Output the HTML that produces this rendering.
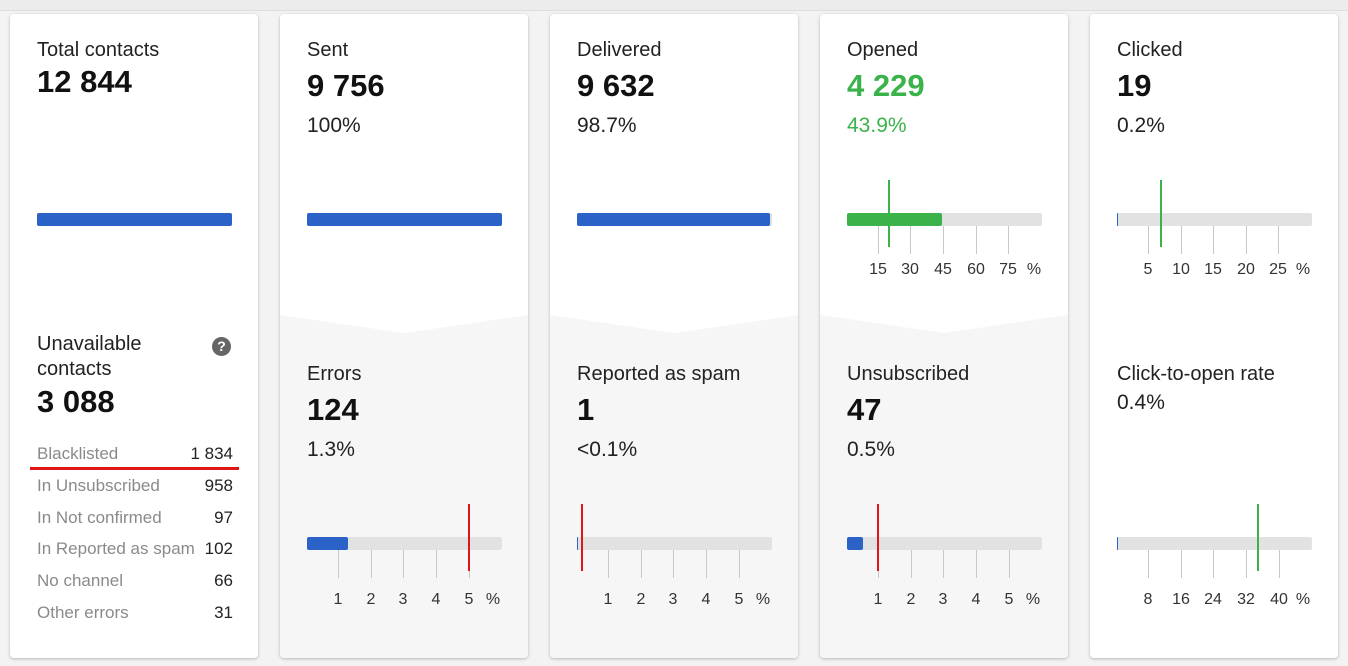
<!DOCTYPE html>
<html><head><meta charset="utf-8"><style>
*{margin:0;padding:0;box-sizing:border-box}
body{width:1348px;height:666px;background:#f3f3f3;font-family:"Liberation Sans",Arial,sans-serif;color:#111;position:relative;overflow:hidden}
.top{position:absolute;left:0;top:0;width:1348px;height:11px;background:#ececec;border-bottom:1px solid #dedede}
.card{position:absolute;top:14px;width:248px;height:644px;background:#fff;border-radius:4px;box-shadow:0 1px 3px rgba(0,0,0,.25);overflow:hidden}
.bot{position:absolute;left:0;top:0;width:248px;height:644px;background:#f7f6f6;clip-path:polygon(0 301px,124px 319px,248px 301px,248px 644px,0 644px)}
.t{position:absolute;left:27px;font-size:20px;color:#222}
.n{position:absolute;left:27px;font-size:31px;font-weight:bold;color:#111}
.p{position:absolute;left:27px;font-size:21px;color:#222}
.bar{position:absolute;left:27px;width:195px;height:13px;background:#e2e2e2;border-radius:2px}
.fill{position:absolute;left:0;top:0;height:13px;background:#2b62c8;border-radius:2px}
.tick{position:absolute;width:1px;height:28px;background:#c8c8c8}
.lab{position:absolute;font-size:16px;color:#333;transform:translateX(-50%)}
.mk{position:absolute;width:2px;height:67px}
.row{position:absolute;left:27px;width:196px;font-size:17px;color:#8a8a8a}
.row span{position:absolute;right:0;color:#222}
</style></head><body>
<div class="top"></div>

<div class="card" style="left:10px">
 <div class="t" style="top:25px">Total contacts</div>
 <div class="n" style="top:50px">12 844</div>
 <div class="bar" style="top:199px"><div class="fill" style="width:195px"></div></div>
 <div class="t" style="top:318px;line-height:25px">Unavailable<br>contacts</div>
 <div style="position:absolute;left:202px;top:323px;width:19px;height:19px;border-radius:50%;background:#666;color:#fff;font-size:14px;font-weight:bold;text-align:center;line-height:19px">?</div>
 <div class="n" style="top:370px">3 088</div>
 <div class="row" style="top:430px">Blacklisted<span>1 834</span></div>
 <div style="position:absolute;left:20px;top:453px;width:209px;height:3px;background:#e01515"></div>
 <div class="row" style="top:462px">In Unsubscribed<span>958</span></div>
 <div class="row" style="top:494px">In Not confirmed<span>97</span></div>
 <div class="row" style="top:525px">In Reported as spam<span>102</span></div>
 <div class="row" style="top:557px">No channel<span>66</span></div>
 <div class="row" style="top:589px">Other errors<span>31</span></div>
</div>

<div class="card" style="left:280px">
 <div class="bot"></div>
 <div class="t" style="top:25px">Sent</div>
 <div class="n" style="top:54px">9 756</div>
 <div class="p" style="top:100px">100%</div>
 <div class="bar" style="top:199px"><div class="fill" style="width:195px"></div></div>
 <div class="t" style="top:349px">Errors</div>
 <div class="n" style="top:378px">124</div>
 <div class="p" style="top:424px">1.3%</div>
 <div class="bar" style="top:523px"><div class="fill" style="width:41px"></div></div>
 <div class="tick" style="left:58px;top:536px"></div><div class="tick" style="left:91px;top:536px"></div><div class="tick" style="left:123px;top:536px"></div><div class="tick" style="left:156px;top:536px"></div><div class="tick" style="left:189px;top:536px"></div>
 <div class="lab" style="left:58px;top:577px">1</div><div class="lab" style="left:91px;top:577px">2</div><div class="lab" style="left:123px;top:577px">3</div><div class="lab" style="left:156px;top:577px">4</div><div class="lab" style="left:189px;top:577px">5</div><div class="lab" style="left:213px;top:577px">%</div>
 <div class="mk" style="left:188px;top:490px;background:#e01515"></div>
</div>

<div class="card" style="left:550px">
 <div class="bot"></div>
 <div class="t" style="top:25px">Delivered</div>
 <div class="n" style="top:54px">9 632</div>
 <div class="p" style="top:100px">98.7%</div>
 <div class="bar" style="top:199px"><div class="fill" style="width:193px"></div></div>
 <div class="t" style="top:349px">Reported as spam</div>
 <div class="n" style="top:378px">1</div>
 <div class="p" style="top:424px">&lt;0.1%</div>
 <div class="bar" style="top:523px"><div class="fill" style="width:1px"></div></div>
 <div class="tick" style="left:58px;top:536px"></div><div class="tick" style="left:91px;top:536px"></div><div class="tick" style="left:123px;top:536px"></div><div class="tick" style="left:156px;top:536px"></div><div class="tick" style="left:189px;top:536px"></div>
 <div class="lab" style="left:58px;top:577px">1</div><div class="lab" style="left:91px;top:577px">2</div><div class="lab" style="left:123px;top:577px">3</div><div class="lab" style="left:156px;top:577px">4</div><div class="lab" style="left:189px;top:577px">5</div><div class="lab" style="left:213px;top:577px">%</div>
 <div class="mk" style="left:31px;top:490px;background:#e01515"></div>
</div>

<div class="card" style="left:820px">
 <div class="bot"></div>
 <div class="t" style="top:25px">Opened</div>
 <div class="n" style="top:54px;color:#3bb34a">4 229</div>
 <div class="p" style="top:100px;color:#3bb34a">43.9%</div>
 <div class="bar" style="top:199px"><div class="fill" style="width:95px;background:#3bb34a"></div></div>
 <div class="tick" style="left:58px;top:212px"></div><div class="tick" style="left:90px;top:212px"></div><div class="tick" style="left:123px;top:212px"></div><div class="tick" style="left:156px;top:212px"></div><div class="tick" style="left:188px;top:212px"></div>
 <div class="lab" style="left:58px;top:247px">15</div><div class="lab" style="left:90px;top:247px">30</div><div class="lab" style="left:123px;top:247px">45</div><div class="lab" style="left:156px;top:247px">60</div><div class="lab" style="left:188px;top:247px">75</div><div class="lab" style="left:214px;top:247px">%</div>
 <div class="mk" style="left:68px;top:166px;background:#3bb34a"></div>
 <div class="t" style="top:349px">Unsubscribed</div>
 <div class="n" style="top:378px">47</div>
 <div class="p" style="top:424px">0.5%</div>
 <div class="bar" style="top:523px"><div class="fill" style="width:16px"></div></div>
 <div class="tick" style="left:58px;top:536px"></div><div class="tick" style="left:91px;top:536px"></div><div class="tick" style="left:123px;top:536px"></div><div class="tick" style="left:156px;top:536px"></div><div class="tick" style="left:189px;top:536px"></div>
 <div class="lab" style="left:58px;top:577px">1</div><div class="lab" style="left:91px;top:577px">2</div><div class="lab" style="left:123px;top:577px">3</div><div class="lab" style="left:156px;top:577px">4</div><div class="lab" style="left:189px;top:577px">5</div><div class="lab" style="left:213px;top:577px">%</div>
 <div class="mk" style="left:57px;top:490px;background:#e01515"></div>
</div>

<div class="card" style="left:1090px">
 <div class="t" style="top:25px">Clicked</div>
 <div class="n" style="top:54px">19</div>
 <div class="p" style="top:100px">0.2%</div>
 <div class="bar" style="top:199px"><div class="fill" style="width:1px"></div></div>
 <div class="tick" style="left:58px;top:212px"></div><div class="tick" style="left:91px;top:212px"></div><div class="tick" style="left:123px;top:212px"></div><div class="tick" style="left:156px;top:212px"></div><div class="tick" style="left:188px;top:212px"></div>
 <div class="lab" style="left:58px;top:247px">5</div><div class="lab" style="left:91px;top:247px">10</div><div class="lab" style="left:123px;top:247px">15</div><div class="lab" style="left:156px;top:247px">20</div><div class="lab" style="left:188px;top:247px">25</div><div class="lab" style="left:213px;top:247px">%</div>
 <div class="mk" style="left:70px;top:166px;background:#3bb34a"></div>
 <div class="t" style="top:349px">Click-to-open rate</div>
 <div class="p" style="top:377px">0.4%</div>
 <div class="bar" style="top:523px"><div class="fill" style="width:1px"></div></div>
 <div class="tick" style="left:58px;top:536px"></div><div class="tick" style="left:91px;top:536px"></div><div class="tick" style="left:123px;top:536px"></div><div class="tick" style="left:156px;top:536px"></div><div class="tick" style="left:189px;top:536px"></div>
 <div class="lab" style="left:58px;top:577px">8</div><div class="lab" style="left:91px;top:577px">16</div><div class="lab" style="left:123px;top:577px">24</div><div class="lab" style="left:156px;top:577px">32</div><div class="lab" style="left:189px;top:577px">40</div><div class="lab" style="left:213px;top:577px">%</div>
 <div class="mk" style="left:167px;top:490px;background:#3bb34a"></div>
</div>
</body></html>
